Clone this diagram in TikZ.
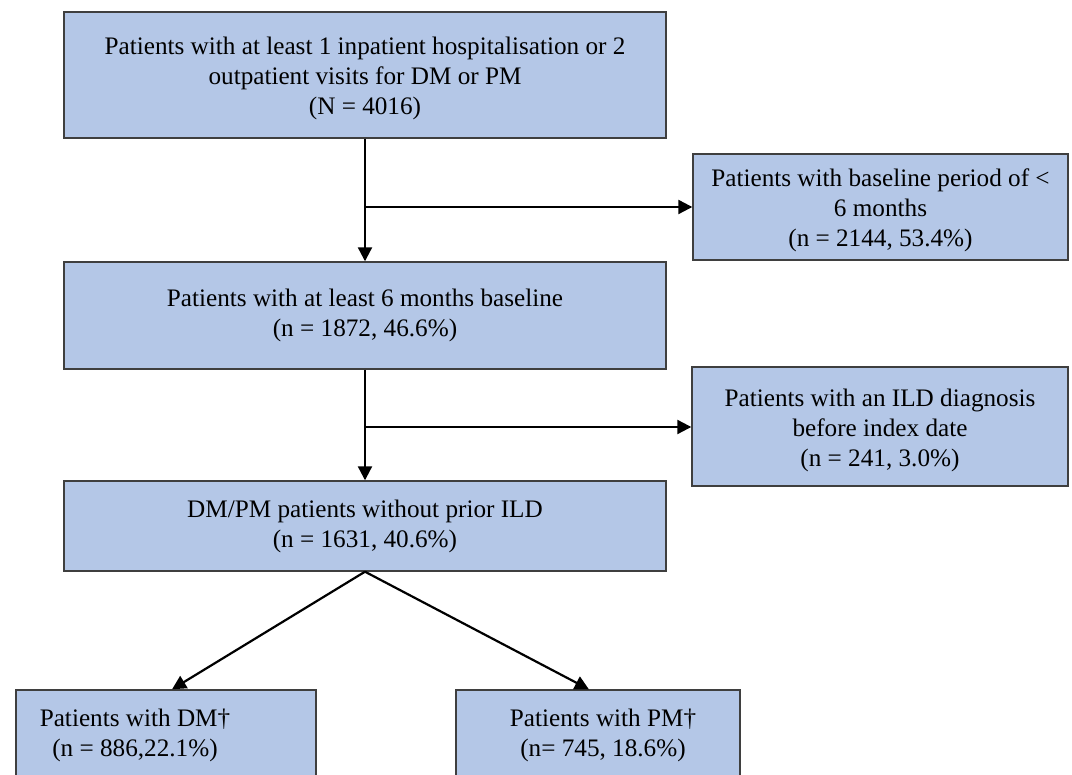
\documentclass[tikz,border=0pt]{standalone}
\usepackage{fontspec}
\setmainfont{Liberation Serif}
\usetikzlibrary{arrows.meta,calc}
\definecolor{boxfill}{HTML}{B4C7E7}
\definecolor{boxline}{HTML}{3F3F3F}
\newcommand{\lowtop}{\rule{0pt}{25pt}}
\begin{document}
\begin{tikzpicture}[x=1pt,y=-1pt,
  box/.style={draw=boxline, line width=1.4pt, fill=boxfill, inner sep=0pt, align=center, font=\fontsize{25.2}{30}\selectfont},
  txt/.style={inner sep=0pt, align=center, font=\fontsize{25.2}{30}\selectfont},
  arr/.style={line width=2.2pt, -{Triangle[length=14pt,width=14pt]}},
  ]
\path[use as bounding box] (0,0) rectangle (1072,775);
\clip (0,0) rectangle (1072,775);

\node[box, minimum width=602pt, minimum height=126pt] (n0) at (365,75)
  {\lowtop Patients with at least 1 inpatient hospitalisation or 2\\ outpatient visits for DM or PM\\ (N = 4016)};
\node[box, minimum width=375pt, minimum height=106pt] (r1) at (880.5,207)
  {\lowtop Patients with baseline period of <\\ 6 months\\ (n = 2144, 53.4\%)};
\node[box, minimum width=602pt, minimum height=107pt] (n1) at (365,315.5)
  {Patients with at least 6 months baseline\\ (n = 1872, 46.6\%)};
\node[box, minimum width=376pt, minimum height=119pt] (r2) at (880,426.5)
  {\lowtop Patients with an ILD diagnosis\\ before index date\\ (n = 241, 3.0\%)};
\node[box, minimum width=602pt, minimum height=90pt] (n2) at (365,526)
  {DM/PM patients without prior ILD\\ (n = 1631, 40.6\%)};
\node[box, minimum width=300pt, minimum height=120pt] (dm) at (166,750) {};
\node[txt] (dmt) at (135,735) {Patients with DM†\\ (n = 886,22.1\%)};
\node[box, minimum width=284pt, minimum height=120pt] (pm) at (598,750) {};
\node[txt] (pmt) at (603,735) {Patients with PM†\\ (n= 745, 18.6\%)};

\coordinate (b1) at (365,207);
\coordinate (b2) at (365,427);

\draw[arr] (n0.south) -- (n1.north);
\draw[arr] (b1) -- (b1 -| r1.west);
\draw[arr] (n1.south) -- (n2.north);
\draw[arr] (b2) -- (b2 -| r2.west);
\draw[arr] (n2.south) -- ($(dm.north west)!0.52!(dm.north east)$);
\draw[arr] (n2.south) -- ($(pm.north west)!0.468!(pm.north east)$);
\end{tikzpicture}
\end{document}
